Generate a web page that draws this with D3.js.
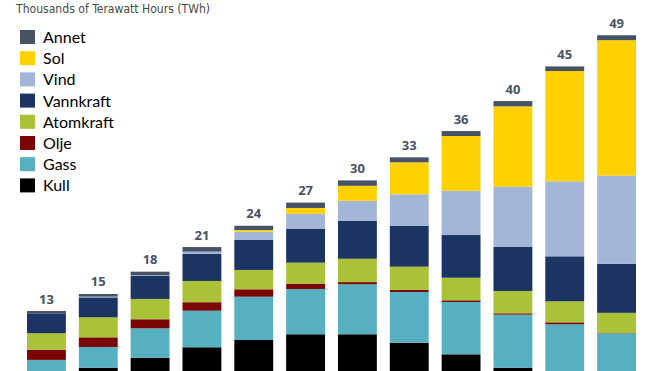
<!DOCTYPE html>
<html>
<head>
<meta charset="utf-8">
<script src="https://cdn.jsdelivr.net/npm/d3@7"></script>
<style>
  html, body { margin: 0; padding: 0; background: #fff; }
  svg { display: block; overflow: hidden; }
</style>
</head>
<body>
<div id="chart"></div>
<script>
// Data (thousands of TWh)
var years = ["1995", "2000", "2005", "2010", "2015", "2020", "2025", "2030", "2035", "2040", "2045", "2050"];
var totals = ["13", "15", "18", "21", "24", "27", "30", "33", "36", "40", "45", "49"];

var kull      = [4.75, 5.53, 6.84, 8.2, 9.15, 9.9, 9.9, 8.8, 7.28, 5.53, 4.2, 2.8];
var gass      = [1.8, 2.7, 3.84, 4.78, 5.66, 5.92, 6.54, 6.63, 6.84, 6.93, 7.0, 7.2];
var olje      = [1.31, 1.27, 1.18, 1.11, 0.97, 0.69, 0.28, 0.26, 0.22, 0.18, 0.26, 0.05];
var atomkraft = [2.18, 2.61, 2.66, 2.78, 2.53, 2.75, 3.05, 3.05, 2.95, 2.92, 2.75, 2.65];
var vannkraft = [2.6, 2.61, 3.0, 3.53, 3.92, 4.45, 4.97, 5.32, 5.58, 5.79, 5.88, 6.4];
var vind      = [0, 0.1, 0.1, 0.3, 1.09, 1.95, 2.61, 4.14, 5.79, 7.84, 9.8, 11.54];
var sol       = [0, 0, 0, 0, 0.2, 0.75, 1.96, 4.18, 7.15, 10.5, 14.42, 17.7];
var annet     = [0.3, 0.35, 0.46, 0.6, 0.56, 0.7, 0.7, 0.65, 0.65, 0.69, 0.6, 0.65];

// stacking order, bottom to top
var seriesNames = ["Kull", "Gass", "Olje", "Atomkraft", "Vannkraft", "Vind", "Sol", "Annet"];
var seriesValues = [kull, gass, olje, atomkraft, vannkraft, vind, sol, annet];
var colors = ["#000000", "#56b0c0", "#7a0606", "#a9c238", "#1b3461", "#a3b6d7", "#fdd200", "#475365"];

const width = 660;
const height = 371;

// table for d3.stack
var table = years.map(function(y, i) {
    var row = { year: y, total: totals[i] };
    seriesNames.forEach(function(s, j) { row[s] = seriesValues[j][i]; });
    return row;
});

var stacked = d3.stack().keys(seriesNames)(table);

var color = d3.scaleOrdinal().domain(seriesNames).range(colors);

// baseline sits below the visible area (chart is cropped at the bottom)
var y = d3.scaleLinear().domain([0, 50]).range([410, 27.5]);
var x = d3.scaleBand().domain(years).range([27, 636]).paddingInner(0.25).paddingOuter(0);

var svg = d3.select("#chart").append("svg")
    .attr("width", width)
    .attr("height", height);

// bars
svg.append("g").selectAll("g")
    .data(stacked)
    .enter().append("g")
    .attr("fill", d => color(d.key))
    .selectAll("rect")
    .data(d => d)
    .enter().append("rect")
    .attr("x", d => x(d.data.year))
    .attr("y", d => y(d[1]))
    .attr("width", x.bandwidth())
    .attr("height", d => Math.max(0, y(d[0]) - y(d[1])));

// total labels on top
svg.append("g").selectAll("text")
    .data(table)
    .enter().append("text")
    .attr("x", d => x(d.year) + x.bandwidth() / 2)
    .attr("y", d => y(d3.sum(seriesNames, s => d[s])) - 7.5)
    .attr("text-anchor", "middle")
    .attr("font-family", "'Open Sans', 'DejaVu Sans', sans-serif")
    .attr("font-weight", "bold")
    .attr("font-size", "13px")
    .attr("fill", "#4a5262")
    .text(d => d.total);

// title
svg.append("text")
    .attr("x", 16)
    .attr("y", 12.5)
    .attr("font-family", "'DejaVu Sans Condensed', 'Liberation Sans Narrow', 'Roboto', sans-serif")
    .attr("font-size", "11.5px")
    .attr("fill", "#4a4a4a")
    .attr("textLength", 194)
    .attr("lengthAdjust", "spacingAndGlyphs")
    .text("Thousands of Terawatt Hours (TWh)");

// legend (top to bottom: reverse of stack)
var legendNames = seriesNames.slice().reverse();
var legend = svg.append("g").selectAll("g")
    .data(legendNames)
    .enter().append("g")
    .attr("transform", (d, i) => "translate(20," + (30 + i * 21.2) + ")");

legend.append("rect")
    .attr("width", 15)
    .attr("height", 14)
    .attr("fill", d => color(d));

legend.append("text")
    .attr("x", 23)
    .attr("y", 13)
    .attr("font-family", "Lato, 'Open Sans', sans-serif")
    .attr("font-size", "16px")
    .attr("fill", "#000")
    .text(d => d);
</script>
</body>
</html>
